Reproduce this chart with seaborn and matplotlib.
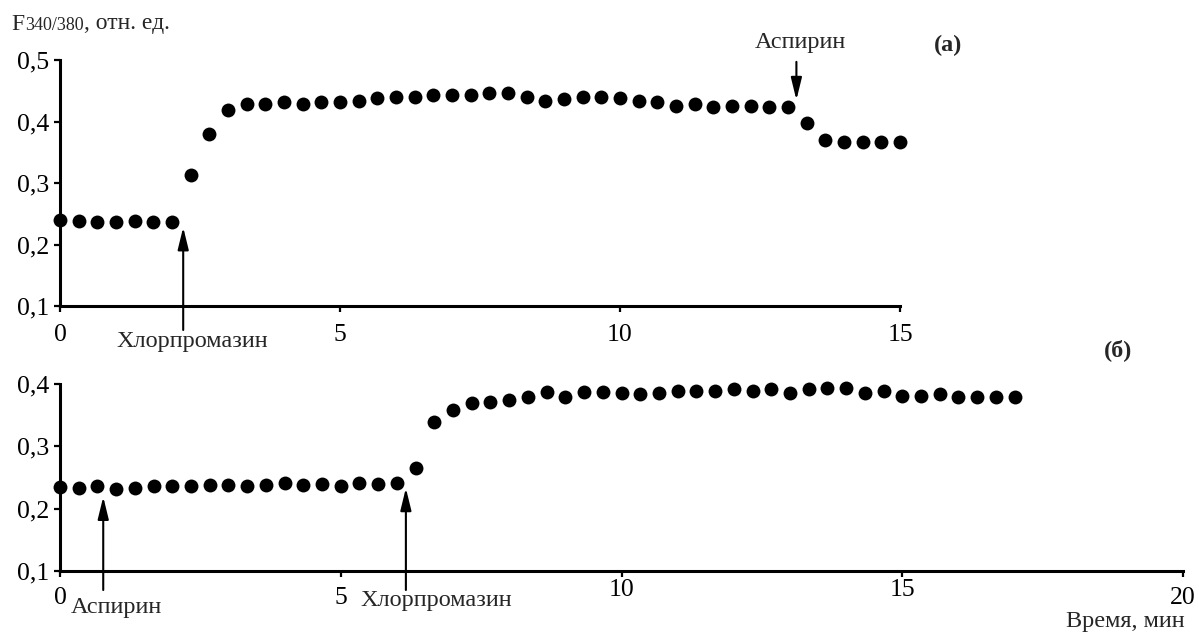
import numpy as np
import pandas as pd
import matplotlib
matplotlib.use("Agg")
import matplotlib.pyplot as plt
from matplotlib.transforms import ScaledTranslation
import seaborn as sns

# F340/380 ratio, one reading every 20 s (1/3 min)
step_min = 1 / 3
ratio_a = [0.240, 0.239, 0.236, 0.236, 0.239, 0.236, 0.236,
           0.313, 0.379, 0.419,
           0.429, 0.429, 0.431, 0.429, 0.431, 0.432, 0.433, 0.438,
           0.440, 0.440, 0.443, 0.443, 0.443, 0.446, 0.446, 0.440,
           0.434, 0.436, 0.440, 0.440, 0.438, 0.433, 0.431, 0.426,
           0.428, 0.424, 0.426, 0.426, 0.424, 0.424,
           0.397, 0.370, 0.366, 0.367, 0.367, 0.366]
ratio_b = [0.235, 0.233, 0.237, 0.231, 0.233, 0.236, 0.236, 0.236, 0.238,
           0.238, 0.236, 0.238, 0.241, 0.238, 0.240, 0.236, 0.241, 0.240,
           0.241,
           0.266, 0.339, 0.358, 0.369, 0.371, 0.375, 0.379, 0.387, 0.379,
           0.387, 0.387, 0.385, 0.384, 0.385, 0.389, 0.389,
           0.388, 0.392, 0.389, 0.392, 0.386, 0.392, 0.393, 0.393, 0.386,
           0.388, 0.381, 0.381, 0.384, 0.379, 0.379, 0.379, 0.379]

yticks_a = [0.1, 0.2, 0.3, 0.4, 0.5]
yticks_b = [0.1, 0.2, 0.3, 0.4]
xticks_a = [0, 5, 10, 15]
xticks_b = [0, 5, 10, 15, 20]

# drug additions (min)
chlor_a, aspirin_a = 2.2, 13.15
aspirin_b, chlor_b = 0.77, 6.16

df_a = pd.DataFrame({"t": np.arange(len(ratio_a)) * step_min, "r": ratio_a})
df_b = pd.DataFrame({"t": np.arange(len(ratio_b)) * step_min, "r": ratio_b})

sns.set_style("ticks")
plt.rcParams['font.family'] = ['Liberation Serif', 'DejaVu Serif']
plt.rcParams['font.size'] = 17.5

fig = plt.figure(figsize=(11.99, 6.32), dpi=100)
W, H = 1199, 632
ax_a = fig.add_axes([60 / W, 1 - 306 / H, 840 / W, 246 / H])
ax_b = fig.add_axes([60 / W, 1 - 571 / H, 1123 / W, 187 / H])


def fmt(v):
    return f"{v:g}".replace(".", ",")


def style(ax, xt, yt, xmax, ytop, xpad):
    ax.set_xlim(0, xmax)
    ax.set_ylim(0.1, ytop)
    ax.set_xticks(xt)
    ax.set_yticks(yt)
    ax.set_xticklabels([fmt(v) for v in xt])
    ax.set_yticklabels([fmt(v) for v in yt])
    ax.set_xlabel("")
    ax.set_ylabel("")
    sns.despine(ax=ax)
    for s in ("left", "bottom"):
        ax.spines[s].set_linewidth(2.2)
        ax.spines[s].set_color("black")
    ax.tick_params(direction="out", length=4.5, width=1.6, color="black",
                   labelsize=18.5, labelcolor="black")
    ax.tick_params(axis="x", pad=xpad)
    ax.tick_params(axis="y", pad=3.5)
    ax.set_facecolor("none")


for ax, df in ((ax_a, df_a), (ax_b, df_b)):
    sns.scatterplot(data=df, x="t", y="r", ax=ax, color="black", s=100,
                    linewidth=0, clip_on=False, zorder=3)

style(ax_a, xticks_a, yticks_a, 15, 0.5, 8.5)
style(ax_b, xticks_b, yticks_b, 20, 0.4, 7)

# the lower panel's "10" and "15" sit a little higher, as in the source figure
for lab in ax_b.get_xticklabels():
    if lab.get_text() in ("10", "15"):
        lab.set_transform(lab.get_transform()
                          + ScaledTranslation(0, 0.08, fig.dpi_scale_trans))

arrow = dict(arrowstyle="-|>,head_length=0.9,head_width=0.22",
             color="black", lw=1.5, shrinkA=0, shrinkB=0, mutation_scale=15)


def mark(ax, x, y_tip, y_tail, label, lx, ly):
    ax.annotate("", xy=(x, y_tip), xytext=(x, y_tail), arrowprops=arrow,
                annotation_clip=False)
    ax.text(lx, ly, label, ha="center", va="center", fontsize=17.5,
            clip_on=False)


mark(ax_a, chlor_a, 0.228, 0.061, "Хлорпромазин", 2.36, 0.042)
mark(ax_a, aspirin_a, 0.435, 0.497, "Аспирин", 13.23, 0.528)
mark(ax_b, aspirin_b, 0.219, 0.0695, "Аспирин", 1.0, 0.041)
mark(ax_b, chlor_b, 0.233, 0.0695, "Хлорпромазин", 6.71, 0.053)

ax_a.text(15.86, 0.524, "(a)", ha="center", va="center", fontsize=17.5,
          fontweight="bold", clip_on=False)
ax_b.text(18.84, 0.455, "(б)", ha="center", va="center", fontsize=17.5,
          fontweight="bold", clip_on=False)

# y label: F with smaller 340/380
fig.text(11 / W, 1 - 24 / H, "F", fontsize=17, ha="left", va="center")
fig.text(25 / W, 1 - 25 / H, "340/380", fontsize=13, ha="left", va="center")
fig.text(84 / W, 1 - 24 / H, ", отн. ед.", fontsize=17, ha="left", va="center")

fig.text(1185 / W, 1 - 621 / H, "Время, мин", fontsize=17.5, ha="right",
         va="center")

fig.savefig("out.png", dpi=100)
